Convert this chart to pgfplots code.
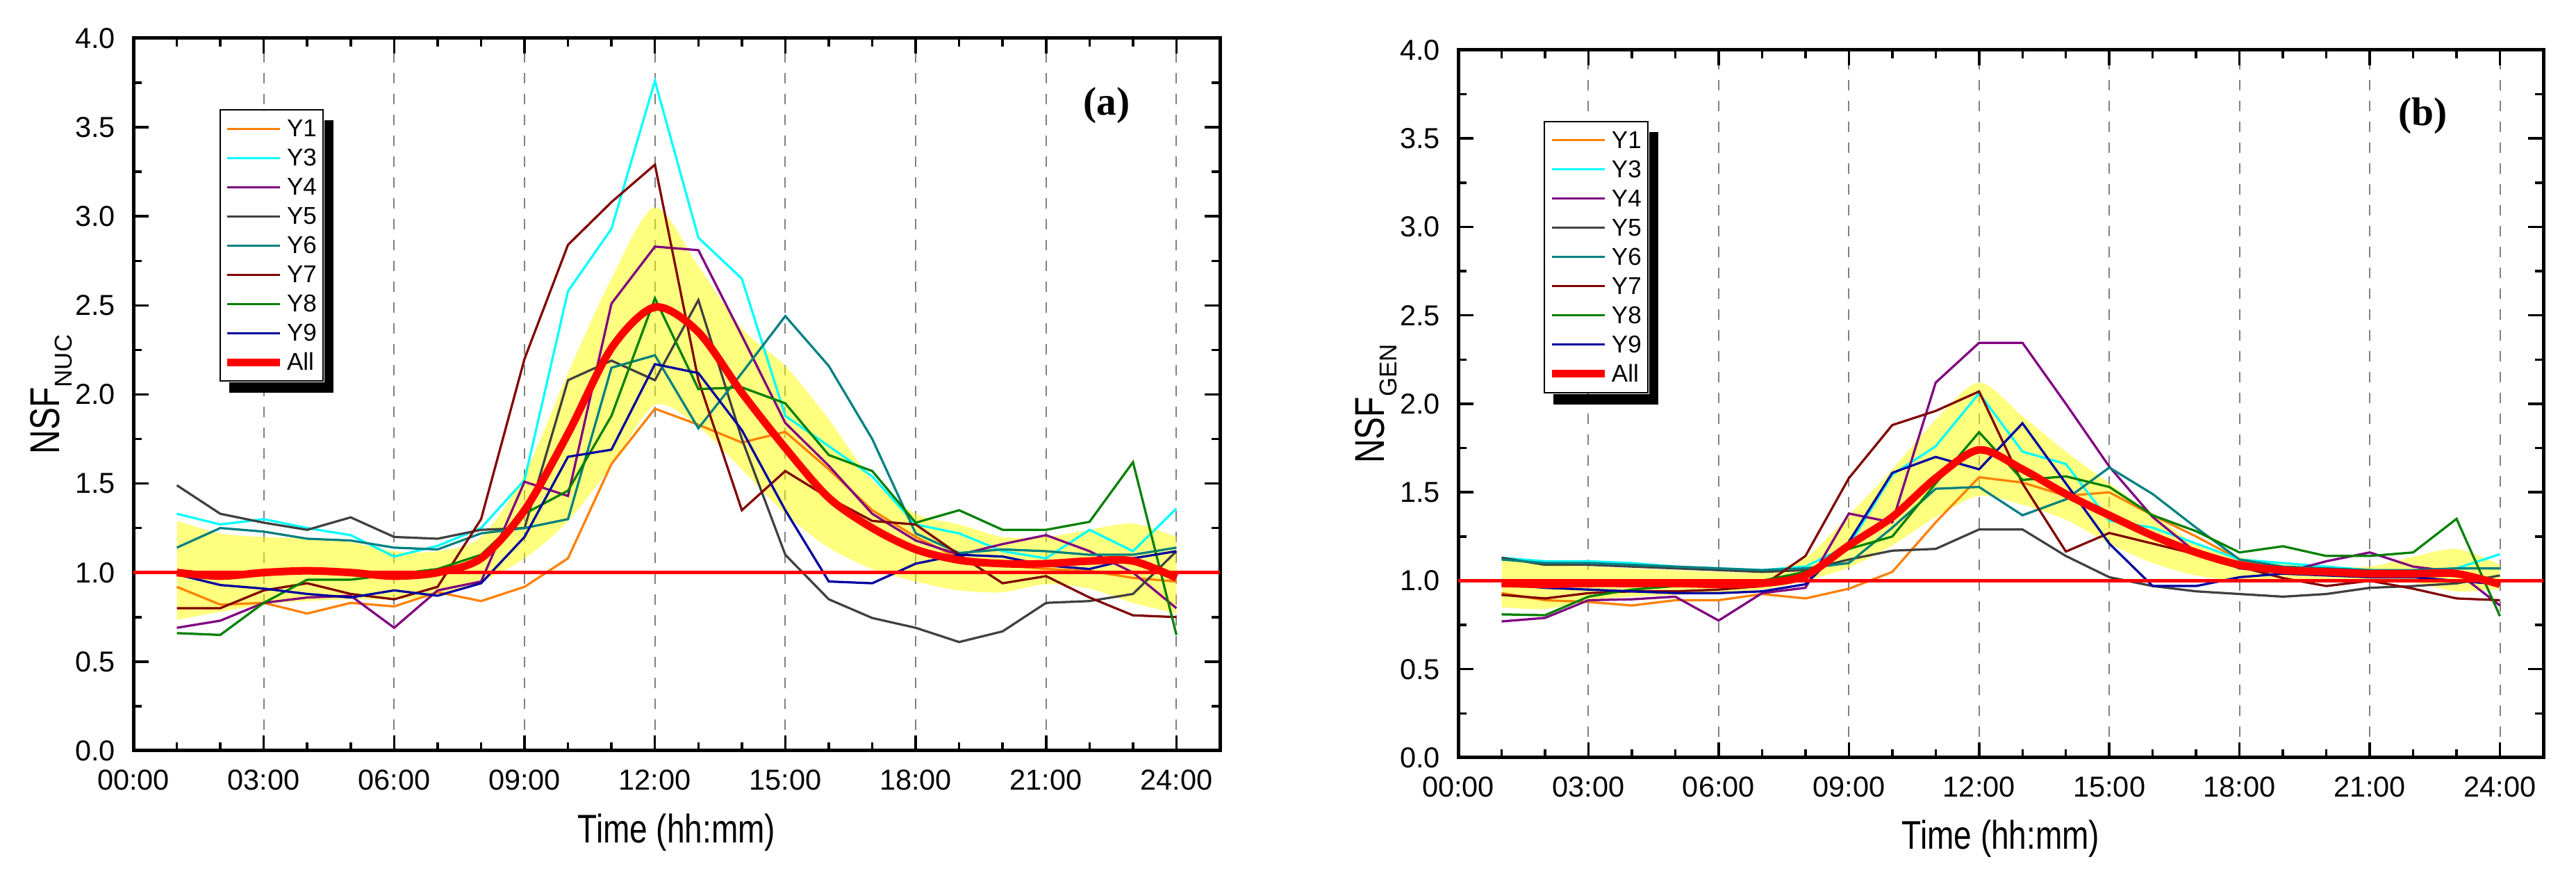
\documentclass[border=0pt]{standalone}
\usepackage{fontspec}
\setmainfont{Liberation Sans}
\newfontfamily\narrowsans{Liberation Sans}[FakeStretch=0.8]
\newfontfamily\serifb{Liberation Serif}
\usepackage{pgfplots}
\usepackage{pgfplotstable}
\pgfplotsset{compat=1.18}
\usepgfplotslibrary{fillbetween}
\usetikzlibrary{calc}

\definecolor{cY1}{RGB}{255,128,0}
\definecolor{cY3}{RGB}{0,255,255}
\definecolor{cY4}{RGB}{128,0,128}
\definecolor{cY5}{RGB}{64,64,64}
\definecolor{cY6}{RGB}{0,128,128}
\definecolor{cY7}{RGB}{128,0,0}
\definecolor{cY8}{RGB}{0,128,0}
\definecolor{cY9}{RGB}{0,0,160}
\definecolor{bandcol}{RGB}{255,255,0}

% panel (a): NSF_NUC
\pgfplotstableread{
h  Y1   Y3   Y4   Y5    Y6   Y7   Y8    Y9   All   Up    Lo
1  0.92 1.33 0.69 1.49  1.14 0.80 0.66  0.99 1.00  1.29  0.735
2  0.82 1.27 0.73 1.33  1.25 0.80 0.65  0.93 0.98  1.22  0.78
3  0.83 1.30 0.83 1.28  1.23 0.90 0.83  0.91 1.00  1.20  0.82
4  0.77 1.25 0.86 1.24  1.19 0.94 0.96  0.88 1.01  1.19  0.84
5  0.83 1.21 0.87 1.31  1.18 0.88 0.96  0.86 1.00  1.17  0.85
6  0.81 1.09 0.69 1.20  1.14 0.85 0.99  0.90 0.98  1.12  0.85
7  0.89 1.15 0.90 1.19  1.13 0.92 1.02  0.87 1.00  1.12  0.87
8  0.84 1.25 0.95 1.24  1.22 1.30 1.10  0.94 1.08  1.20  0.95
9  0.92 1.52 1.51 1.25  1.25 2.20 1.33  1.20 1.35  1.55  1.08
10 1.08 2.58 1.43 2.08  1.30 2.84 1.46  1.65 1.78  2.12  1.29
11 1.61 2.93 2.51 2.19  2.15 3.08 1.88  1.69 2.26  2.65  1.60
12 1.92 3.76 2.83 2.08  2.22 3.29 2.54  2.17 2.49  3.05  1.94
13 1.83 2.88 2.81 2.53  1.81 2.08 2.03  2.12 2.35  2.72  1.82
14 1.73 2.65 2.33 1.75  2.12 1.35 2.04  1.80 2.01  2.37  1.58
15 1.79 1.88 1.84 1.10  2.44 1.57 1.95  1.35 1.70  2.16  1.33
16 1.58 1.71 1.60 0.85  2.16 1.42 1.66  0.95 1.42  1.86  1.14
17 1.35 1.54 1.33 0.745 1.75 1.29 1.57  0.94 1.25  1.52  1.02
18 1.20 1.27 1.18 0.69  1.22 1.27 1.28  1.05 1.13  1.33  0.95
19 1.08 1.22 1.10 0.61  1.11 1.10 1.35  1.10 1.07  1.27  0.90
20 1.04 1.12 1.16 0.67  1.13 0.94 1.24  1.09 1.05  1.20  0.89
21 1.02 1.08 1.21 0.83  1.12 0.98 1.24  1.04 1.05  1.20  0.935
22 1.01 1.24 1.12 0.84  1.10 0.86 1.285 1.02 1.065 1.24  0.91
23 0.97 1.12 1.00 0.88  1.10 0.76 1.62  1.08 1.065 1.275 0.83
24 0.95 1.36 0.80 1.12  1.14 0.75 0.65  1.12 0.97  1.20  0.77
}\dataA

% panel (b): NSF_GEN
\pgfplotstableread{
h  Y1    Y3   Y4    Y5    Y6   Y7    Y8    Y9   All   Up    Lo
1  0.93  1.13 0.77  1.13  1.12 0.92  0.81  0.98 0.985 1.12  0.85
2  0.89  1.11 0.79  1.09  1.10 0.90  0.805 0.96 0.98  1.09  0.84
3  0.88  1.11 0.89  1.09  1.10 0.93  0.91  0.95 0.985 1.08  0.89
4  0.86  1.10 0.895 1.08  1.09 0.94  0.95  0.94 0.985 1.07  0.91
5  0.89  1.08 0.91  1.07  1.08 0.94  0.97  0.93 0.985 1.06  0.92
6  0.89  1.07 0.775 1.06  1.07 0.95  0.98  0.93 0.98  1.05  0.93
7  0.925 1.06 0.93  1.05  1.06 0.97  1.00  0.94 0.985 1.05  0.95
8  0.90  1.08 0.96  1.06  1.07 1.14  1.05  0.98 1.03  1.13  1.00
9  0.955 1.20 1.38  1.12  1.10 1.58  1.18  1.22 1.20  1.37  1.075
10 1.05  1.60 1.33  1.17  1.30 1.88  1.25  1.61 1.36  1.63  1.20
11 1.33  1.76 2.12  1.18  1.52 1.96  1.55  1.70 1.58  1.91  1.36
12 1.585 2.06 2.345 1.29  1.53 2.07  1.84  1.63 1.74  2.12  1.48
13 1.555 1.73 2.345 1.29  1.37 1.55  1.57  1.89 1.63  1.93  1.43
14 1.48  1.66 2.00  1.14  1.46 1.165 1.59  1.55 1.49  1.73  1.345
15 1.50  1.34 1.645 1.02  1.64 1.27  1.53  1.21 1.37  1.55  1.21
16 1.37  1.30 1.36  0.97  1.49 1.21  1.37  0.97 1.255 1.375 1.10
17 1.25  1.21 1.16  0.94  1.30 1.15  1.28  0.97 1.16  1.21  1.03
18 1.12  1.12 1.07  0.925 1.12 1.08  1.16  1.02 1.09  1.135 1.00
19 1.05  1.10 1.045 0.91  1.08 1.015 1.195 1.04 1.06  1.10  1.00
20 1.04  1.08 1.11  0.925 1.07 0.97  1.14  1.03 1.05  1.08  0.99
21 1.02  1.06 1.16  0.96  1.06 1.00  1.14  1.02 1.04  1.08  0.99
22 1.02  1.05 1.08  0.97  1.06 0.955 1.16  1.02 1.04  1.135 0.99
23 1.03  1.07 1.05  0.985 1.07 0.90  1.35  1.00 1.04  1.18  0.94
24 1.00  1.15 0.86  1.03  1.07 0.89  0.80  0.98 0.98  1.09  0.955
}\dataB

\pgfplotsset{
  nsf/.style={
    scale only axis,
    xmin=0, xmax=25, ymin=0, ymax=4,
    xtick={0,3,...,24},
    xticklabels={00:00,03:00,06:00,09:00,12:00,15:00,18:00,21:00,24:00},
    minor x tick num=2,
    ytick={0,0.5,...,4},
    minor y tick num=1,
    tick align=inside,
    xtick pos=both, ytick pos=both,
    xticklabel pos=lower, yticklabel pos=left,
    major tick length=4.4pt, minor tick length=2.4pt,
    every tick/.style={black, line width=0.7pt},
    axis line style={line width=1pt},
    xmajorgrids,
    major x grid style={gray, line width=0.4pt, dash pattern=on 3pt off 3pt},
    /pgf/number format/assume math mode=true,
    yticklabel style={font=\fontsize{8.3}{10}\selectfont, xshift=-1.7pt,
      /pgf/number format/.cd, fixed, fixed zerofill, precision=1},
    xticklabel style={font=\fontsize{8.3}{10}\selectfont, yshift=-2pt},
    every axis x label/.style={at={(axis description cs:0.5,-0.129)}, anchor=base},
    xlabel style={font=\narrowsans\fontsize{11.5}{13}\selectfont},
    xlabel={Time (hh:mm)},
    every axis y label/.style={at={(axis description cs:-0.068,0.5)}, rotate=90, anchor=base},
    no markers,
    legend cell align=left,
    legend image code/.code={\draw[##1] (0pt,0pt) -- (15.2pt,0pt);},
    legend style={at={(0.079,0.9)}, anchor=north west,
      font=\fontsize{7}{8}\selectfont, draw=black, line width=0.4pt, fill=white,
      inner xsep=1pt, inner ysep=1.6pt, row sep=0.8pt,
      nodes={inner sep=0.9pt, text height=5.2pt, text depth=0.6pt}},
    legend entries={Y1,Y3,Y4,Y5,Y6,Y7,Y8,Y9,All},
  },
  thin/.style={line width=0.65pt},
}

\begin{document}
\begin{tikzpicture}

\begin{axis}[nsf, at={(38.4pt,37.2pt)}, anchor=south west,
  width=312.8pt, height=205pt, legend style={name=legA},
  ylabel={\narrowsans\fontsize{12}{14}\selectfont NSF\raisebox{-0.3em}{\rmfamily\fontsize{7}{8}\selectfont NUC}}]
  \addplot[cY1, thin] table[x=h, y=Y1] {\dataA};
  \addplot[cY3, thin] table[x=h, y=Y3] {\dataA};
  \addplot[cY4, thin] table[x=h, y=Y4] {\dataA};
  \addplot[cY5, thin] table[x=h, y=Y5] {\dataA};
  \addplot[cY6, thin] table[x=h, y=Y6] {\dataA};
  \addplot[cY7, thin] table[x=h, y=Y7] {\dataA};
  \addplot[cY8, thin] table[x=h, y=Y8] {\dataA};
  \addplot[cY9, thin] table[x=h, y=Y9] {\dataA};
  \addplot[draw=none, smooth, name path=upA, forget plot] table[x=h, y=Up] {\dataA};
  \addplot[draw=none, smooth, name path=loA, forget plot] table[x=h, y=Lo] {\dataA};
  \addplot[bandcol, fill opacity=0.5, forget plot] fill between[of=upA and loA];
  \addplot[red, line width=1pt, forget plot] coordinates {(0,1) (25,1)};
  \addplot[red, line width=2.2pt, smooth] table[x=h, y=All] {\dataA};
  \node[font=\serifb\bfseries\fontsize{11.5}{13}\selectfont] at (rel axis cs:0.896,0.906) {(a)};
\end{axis}
% legend drop shadow (a)
\fill[black] ($(legA.north east)+(0.2pt,-3.2pt)$) rectangle ($(legA.south east)+(2.8pt,-3.2pt)$);
\fill[black] ($(legA.south west)+(2.8pt,-0.2pt)$) rectangle ($(legA.south east)+(2.8pt,-3.2pt)$);

\begin{axis}[nsf, at={(419.8pt,35.2pt)}, anchor=south west,
  width=312.4pt, height=203.6pt, legend style={name=legB},
  ylabel={\narrowsans\fontsize{12}{14}\selectfont NSF\raisebox{-0.3em}{\rmfamily\fontsize{7}{8}\selectfont GEN}}]
  \addplot[cY1, thin] table[x=h, y=Y1] {\dataB};
  \addplot[cY3, thin] table[x=h, y=Y3] {\dataB};
  \addplot[cY4, thin] table[x=h, y=Y4] {\dataB};
  \addplot[cY5, thin] table[x=h, y=Y5] {\dataB};
  \addplot[cY6, thin] table[x=h, y=Y6] {\dataB};
  \addplot[cY7, thin] table[x=h, y=Y7] {\dataB};
  \addplot[cY8, thin] table[x=h, y=Y8] {\dataB};
  \addplot[cY9, thin] table[x=h, y=Y9] {\dataB};
  \addplot[draw=none, smooth, name path=upB, forget plot] table[x=h, y=Up] {\dataB};
  \addplot[draw=none, smooth, name path=loB, forget plot] table[x=h, y=Lo] {\dataB};
  \addplot[bandcol, fill opacity=0.5, forget plot] fill between[of=upB and loB];
  \addplot[red, line width=1pt, forget plot] coordinates {(0,1) (25,1)};
  \addplot[red, line width=2.2pt, smooth] table[x=h, y=All] {\dataB};
  \node[font=\serifb\bfseries\fontsize{11.5}{13}\selectfont] at (rel axis cs:0.889,0.907) {(b)};
\end{axis}
% legend drop shadow (b)
\fill[black] ($(legB.north east)+(0.2pt,-3.2pt)$) rectangle ($(legB.south east)+(2.8pt,-3.2pt)$);
\fill[black] ($(legB.south west)+(2.8pt,-0.2pt)$) rectangle ($(legB.south east)+(2.8pt,-3.2pt)$);

\pgfresetboundingbox
\useasboundingbox (0,0) rectangle (741.6pt,253.2pt);
\end{tikzpicture}
\end{document}
